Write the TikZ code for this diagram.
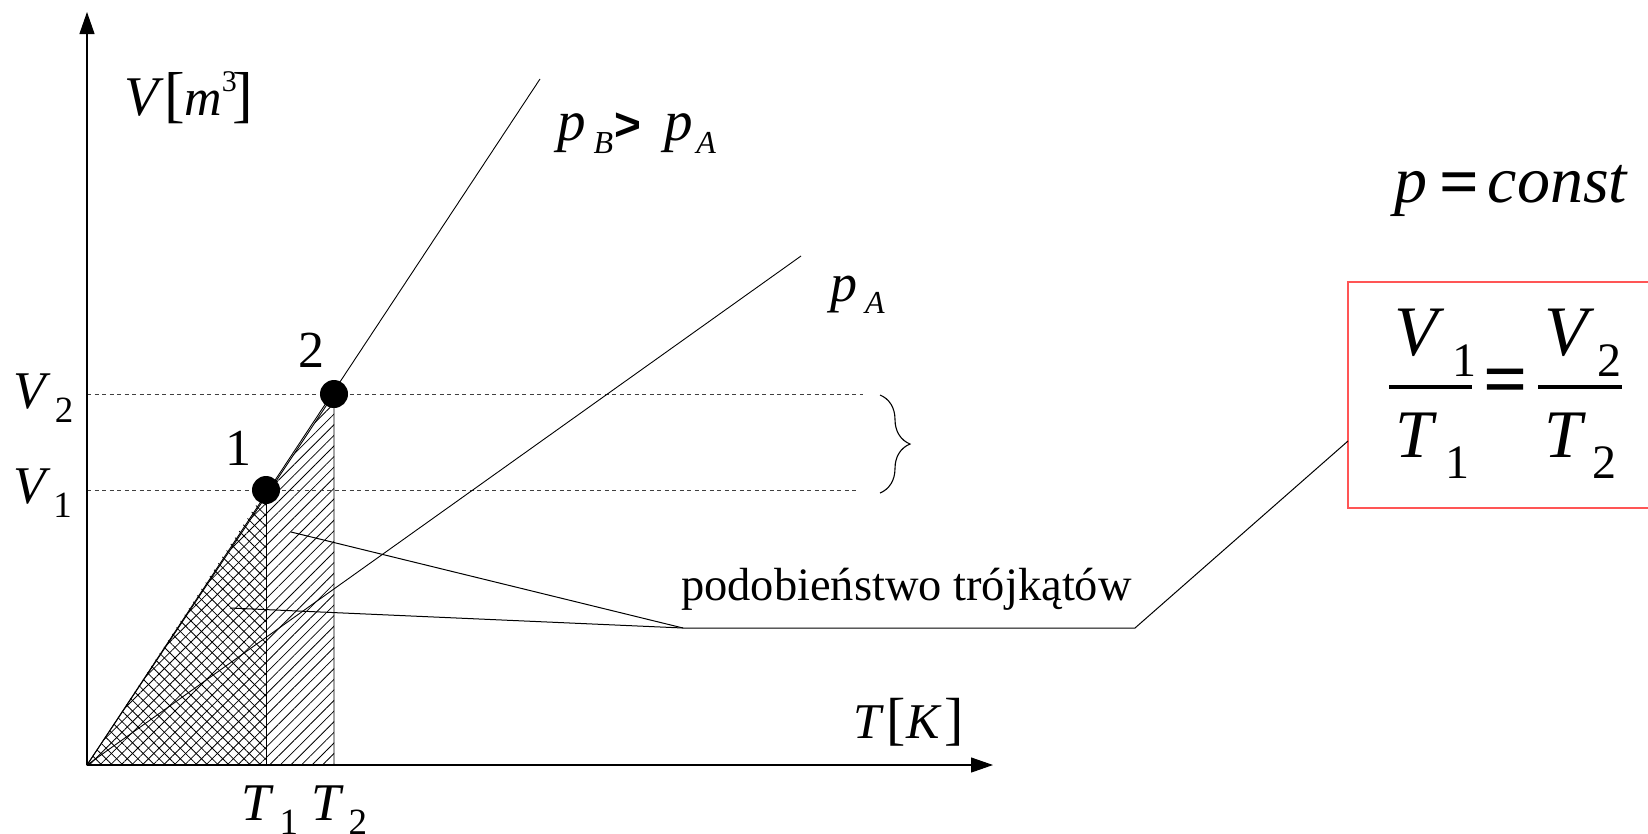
\documentclass[tikz,border=0pt]{standalone}
\usepackage{fontspec}
\setmainfont{Liberation Serif}
\newfontfamily\sansfont{Liberation Sans}
\usetikzlibrary{arrows.meta,patterns.meta,decorations.pathreplacing}
\newcommand\myfs[1]{\fontsize{#1}{#1}\selectfont}
\newcommand\lowsub[3]{\raisebox{-#1pt}{\myfs{#2}#3}}
\definecolor{boxred}{RGB}{255,85,85}
\begin{document}
\begin{tikzpicture}[x=1pt,y=-1pt,
  lbl/.style={inner sep=0pt, outer sep=0pt, anchor=base west},
  numlbl/.style={inner sep=0pt, outer sep=0pt, anchor=base, font=\myfs{52}},
  axis/.style={line width=1.1pt, -{Triangle[length=22pt,width=15pt]}},
  isobar/.style={line width=0.9pt},
  guide/.style={line width=0.9pt, black!75, dash pattern=on 4pt off 3.5pt},
  leader/.style={line width=1pt},
  dot/.style={circle, fill=black, inner sep=0pt, minimum size=28pt}]
\useasboundingbox (0,0) rectangle (1648,833);
\clip (0,0) rectangle (1648,833);

% key coordinates
\coordinate (O) at (87,765);
\coordinate (ytip) at (87,12);
\coordinate (xtip) at (993,765);
\coordinate (pBend) at (540,79);
\coordinate (pAend) at (801,256);
\coordinate (P1) at (266,490);
\coordinate (P2) at (334,394);
\coordinate (T1b) at (266,765);
\coordinate (T2b) at (334,765);
\coordinate (V1a) at (87,490);
\coordinate (V2a) at (87,394);
\coordinate (V1e) at (857,490);
\coordinate (V2e) at (863,394);

% hatching
\fill[pattern={Lines[angle=45,distance=7.5pt,line width=0.8pt]}] (O) -- (T2b) -- (P2) -- cycle;
\fill[pattern={Lines[angle=-45,distance=7.5pt,line width=0.8pt]}] (O) -- (T1b) -- (P1) -- cycle;
\draw[line width=0.9pt] (O) -- (T2b) -- (P2) -- cycle;
\draw[line width=0.9pt] (T1b) -- (P1);

% dashed guides
\draw[guide] (V2a) -- (V2e);
\draw[guide] (V1a) -- (V1e);

% isobars
\draw[isobar] (O) -- (pBend);
\draw[isobar] (O) -- (pAend);

% axes
\draw[axis] (O) -- (ytip);
\draw[axis] (O) -- (xtip);

% points
\node[dot] (pt1) at (P1) {};
\node[dot] (pt2) at (P2) {};
\node[numlbl] (l1) at (238,465) {1};
\node[numlbl] (l2) at (311,367) {2};

% brace
\draw[line width=1.1pt, decorate, decoration={brace, amplitude=30pt, aspect=0.5}] (880,395) -- (880,493);

% axis labels
\node[lbl] (Vlab) at (124,115) {\myfs{56}\textit{V}\kern1pt{\myfs{62}[}\kern-1pt{\myfs{52}\textit{m}}\raisebox{24pt}{\myfs{30}3}\kern-4pt{\myfs{62}]}};
\node[lbl] (Tlab) at (853,738) {\myfs{50}\textit{T}\kern3pt{\myfs{58}[}\kern0pt\textit{K}\kern3pt{\myfs{58}]}};
\node[lbl] (V2lab) at (13,408) {\myfs{53}\textit{V}\kern4.5pt\lowsub{14}{37}{2}};
\node[lbl] (V1lab) at (13,503) {\myfs{53}\textit{V}\kern3pt\lowsub{14}{37}{1}};
\node[lbl] (T1lab) at (241,820) {\myfs{53}\textit{T}\kern6pt\lowsub{14}{37}{1}};
\node[lbl] (T2lab) at (311,820) {\myfs{53}\textit{T}\kern5pt\lowsub{14}{37}{2}};

% pressure labels
\node[lbl] (pBlab) at (557,140) {\myfs{57}\textit{p}\kern8pt\lowsub{13}{32}{\textit{B}}\kern1pt{\sansfont\bfseries\myfs{46}>}\kern24pt\textit{p}\kern3pt\lowsub{13}{32}{\textit{A}}};
\node[lbl] (pAlab) at (830,301) {\myfs{54}\textit{p}\kern8pt\lowsub{12}{32}{\textit{A}}};

% p = const
\node[lbl] (pconst) at (1394,202) {\myfs{66}\textit{p}\kern12pt\raisebox{-3pt}{\bfseries\myfs{70}=}\kern9pt\textit{const}};

% formula box
\draw[boxred, line width=1.4pt] (1348,282) rectangle (1670,508);
\node[lbl] (n1) at (1394,355) {\myfs{71}\textit{V}\kern8pt\lowsub{21}{48}{1}};
\node[lbl] (d1) at (1395,457) {\myfs{68}\textit{T}\kern9pt\lowsub{21}{48}{1}};
\node[lbl] (eq) at (1483,405) {\bfseries\myfs{78}=};
\node[lbl] (n2) at (1544,355) {\myfs{71}\textit{V}\kern3pt\lowsub{21}{48}{2}};
\node[lbl] (d2) at (1544,457) {\myfs{68}\textit{T}\kern7pt\lowsub{21}{48}{2}};
\draw[line width=4pt] (1389,387) -- (1472,387);
\draw[line width=4pt] (1538,387) -- (1622,387);
\coordinate (boxin) at (1348,441);

% similarity note
\node[lbl] (sim) at (681,600) {\myfs{46.5}podobieństwo trójkątów};
\coordinate (hub) at (683,628);
\coordinate (kink) at (1135,628);
\coordinate (ptrA) at (291,532);
\coordinate (ptrB) at (230,608);
\draw[leader] (ptrA) -- (hub);
\draw[leader] (ptrB) -- (hub);
\draw[leader] (hub) -- (kink) -- (boxin);
\end{tikzpicture}
\end{document}
